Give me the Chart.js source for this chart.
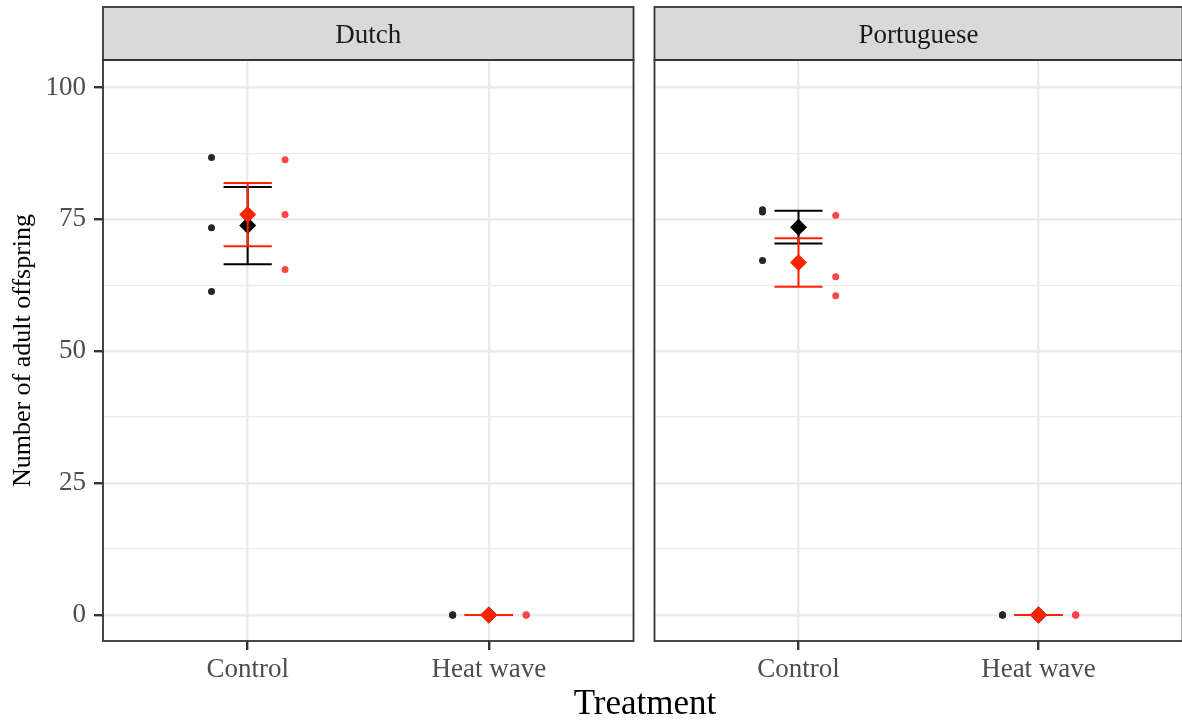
<!DOCTYPE html>
<html>
<head>
<meta charset="utf-8">
<script src="https://cdn.jsdelivr.net/npm/chart.js@4"></script>
<style>
  html, body { margin: 0; padding: 0; background: #fff; overflow: hidden; }
  body { width: 1182px; height: 724px; position: relative; }
  canvas { position: absolute; top: 0; }
  #xtitle { position: absolute; left: 0; width: 1290px; top: 683px; text-align: center;
            font: 35px 'Liberation Serif', serif; color: #000; }
</style>
</head>
<body>
<canvas id="left" width="642" height="724" style="left:0"></canvas>
<canvas id="right" width="545" height="724" style="left:646px"></canvas>
<div id="xtitle">Treatment</div>
<script>
// Facets, categories and axis ticks
const populations = ['Dutch', 'Portuguese'];
const treatments = ['Control', 'Heat wave'];
const yTicks = [0, 25, 50, 75, 100];
const yMinor = [12.5, 37.5, 62.5, 87.5];

// Replicates per treatment: [Control, Heat wave]
const dutchBlack = [[86.7, 73.4, 61.3], [0, 0, 0]];
const dutchRed = [[86.3, 75.9, 65.5], [0, 0, 0]];
const portBlack = [[76.8, 76.4, 67.2], [0, 0, 0]];
const portRed = [[75.7, 64.1, 60.5], [0, 0, 0]];

// Means and standard errors
const dutchBlackMean = [73.8, 0];
const dutchBlackSE = [7.3, 0];
const dutchRedMean = [75.9, 0];
const dutchRedSE = [6.0, 0];
const portBlackMean = [73.5, 0];
const portBlackSE = [3.1, 0];
const portRedMean = [66.8, 0];
const portRedSE = [4.6, 0];

const FONT = "'Liberation Serif', 'Times New Roman', serif";
const RED = '#ff2200';

// Build point data with dodge offset
function pointsFrom(reps, offset) {
    let out = [];
    reps.forEach((vals, i) => {
        vals.forEach((v) => out.push({ x: i + 1 + offset, y: v }));
    });
    return out;
}

function meansFrom(means) {
    return means.map((m, i) => ({ x: i + 1, y: m }));
}

// Strip, panel border and error bars
const panelPlugin = {
    id: 'panel',
    beforeDatasetDraw(chart, args) {
        const ds = chart.data.datasets[args.index];
        if (!ds.se) return;
        const xs = chart.scales.x, ys = chart.scales.y;
        const ctx = chart.ctx;
        const half = xs.getPixelForValue(1.1) - xs.getPixelForValue(1);
        ctx.save();
        ctx.strokeStyle = ds.borderColor;
        ctx.lineWidth = 2;
        ds.data.forEach((p, i) => {
            const x = xs.getPixelForValue(p.x);
            const lo = ys.getPixelForValue(p.y - ds.se[i]);
            const hi = ys.getPixelForValue(p.y + ds.se[i]);
            ctx.beginPath();
            ctx.moveTo(x, lo); ctx.lineTo(x, hi);
            ctx.moveTo(x - half, lo); ctx.lineTo(x + half, lo);
            ctx.moveTo(x - half, hi); ctx.lineTo(x + half, hi);
            ctx.stroke();
        });
        ctx.restore();
    },
    afterDraw(chart, args, opts) {
        const a = chart.chartArea;
        const ctx = chart.ctx;
        ctx.save();
        ctx.fillStyle = '#d9d9d9';
        ctx.fillRect(a.left, 7, a.right - a.left, a.top - 7);
        ctx.strokeStyle = '#333';
        ctx.lineWidth = 1.8;
        ctx.strokeRect(a.left, 7, a.right - a.left, a.top - 7);
        ctx.strokeRect(a.left, a.top, a.right - a.left, a.bottom - a.top);
        ctx.fillStyle = '#1a1a1a';
        ctx.font = '27px ' + FONT;
        ctx.textAlign = 'center';
        ctx.textBaseline = 'middle';
        ctx.fillText(opts.label, (a.left + a.right) / 2, (7 + a.top) / 2 + 2);
        ctx.restore();
    }
};

function makePanel(canvasId, panel, black, red, bMean, bSE, rMean, rSE, showY) {
    new Chart(document.getElementById(canvasId), {
        type: 'scatter',
        data: {
            datasets: [
                { data: pointsFrom(black, -0.15), backgroundColor: '#262626', borderWidth: 0,
                  pointRadius: 3.5, order: 4 },
                { data: pointsFrom(red, 0.155), backgroundColor: '#ff4545', borderWidth: 0,
                  pointRadius: 3.5, order: 3 },
                { data: meansFrom(bMean), se: bSE, backgroundColor: '#000', borderColor: '#000',
                  borderWidth: 0, pointStyle: 'rectRot', pointRadius: 8.5, order: 2 },
                { data: meansFrom(rMean), se: rSE, backgroundColor: RED, borderColor: RED,
                  borderWidth: 0, pointStyle: 'rectRot', pointRadius: 8.5, order: 1 }
            ]
        },
        options: {
            responsive: false,
            animation: false,
            events: [],
            layout: { padding: { top: 60, right: 8, bottom: 0, left: 0 } },
            plugins: {
                legend: { display: false },
                tooltip: { enabled: false },
                panel: { label: populations[panel] }
            },
            scales: {
                x: {
                    type: 'linear',
                    min: 0.4,
                    max: 2.6,
                    afterBuildTicks: (s) => { s.ticks = treatments.map((t, i) => ({ value: i + 1 })); },
                    afterFit: (s) => { s.height = 83; },
                    border: { display: false },
                    grid: { color: '#ebebeb', lineWidth: 2.4, tickColor: '#333', tickLength: 9, tickWidth: 2.4 },
                    ticks: {
                        padding: 4,
                        color: '#4d4d4d',
                        font: { family: FONT, size: 27 },
                        maxRotation: 0,
                        callback: (v) => treatments[Math.round(v) - 1]
                    }
                },
                y: {
                    min: -4.95,
                    max: 105.2,
                    afterBuildTicks: (s) => {
                        s.ticks = yTicks.concat(yMinor).sort((p, q) => p - q).map((v) => ({ value: v }));
                    },
                    afterFit: (s) => { s.width = showY ? 103 : 7; },
                    border: { display: false },
                    grid: {
                        color: '#ebebeb',
                        lineWidth: (c) => (yTicks.includes(c.tick.value) ? 2.4 : 1.3),
                        tickColor: (c) => (yTicks.includes(c.tick.value) ? '#333' : 'rgba(0,0,0,0)'),
                        drawTicks: showY,
                        tickLength: 9,
                        tickWidth: 2.4
                    },
                    ticks: {
                        display: showY,
                        padding: 8,
                        color: '#4d4d4d',
                        font: { family: FONT, size: 27 },
                        callback: (v) => (yTicks.includes(v) ? String(v) : '')
                    },
                    title: {
                        display: showY,
                        text: 'Number of adult offspring',
                        color: '#000',
                        font: { family: FONT, size: 26 },
                        padding: { top: 8, bottom: 0 }
                    }
                }
            }
        },
        plugins: [panelPlugin]
    });
}

makePanel('left', 0, dutchBlack, dutchRed, dutchBlackMean, dutchBlackSE, dutchRedMean, dutchRedSE, true);
makePanel('right', 1, portBlack, portRed, portBlackMean, portBlackSE, portRedMean, portRedSE, false);
</script>
</body>
</html>
